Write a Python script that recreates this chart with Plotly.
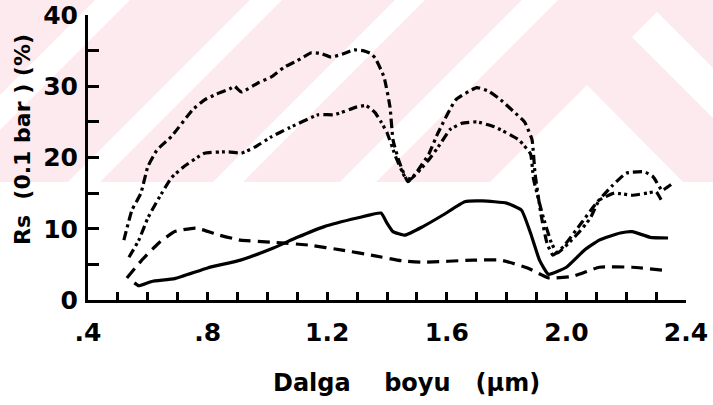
import plotly.graph_objects as go

# Spectral reflectance Rs (0.1 bar) versus wavelength for four samples
wl_a = [0.52, 0.547, 0.577, 0.60, 0.63, 0.68, 0.75, 0.79, 0.83, 0.873, 0.89, 0.913, 0.97, 1.013,
        1.057, 1.10, 1.147, 1.18, 1.213, 1.25, 1.29, 1.32, 1.345, 1.36, 1.39, 1.41, 1.42, 1.44,
        1.47, 1.50, 1.54, 1.57, 1.63, 1.70, 1.74, 1.78, 1.83, 1.86, 1.885, 1.895, 1.915, 1.935,
        1.955, 1.99, 2.05, 2.10, 2.15, 2.20, 2.26, 2.29, 2.32, 2.35]
rs_a = [8.4, 12.6, 15.0, 18.7, 21.0, 23.0, 26.7, 28.1, 28.9, 29.6, 30.0, 29.2, 30.5, 31.3,
        32.7, 33.6, 34.7, 34.6, 34.1, 34.5, 35.1, 35.0, 34.6, 34.0, 31.3, 27.1, 22.5, 19.5,
        16.6, 18.0, 20.5, 23.4, 28.1, 29.8, 29.3, 28.1, 26.2, 25.0, 22.5, 17.8, 12.0, 8.0,
        6.3, 7.5, 10.8, 13.6, 15.9, 17.8, 18.0, 17.3, 15.4, 16.2]

wl_b = [0.537, 0.57, 0.60, 0.637, 0.68, 0.72, 0.79, 0.87, 0.913, 0.96, 1.013, 1.07, 1.17,
        1.223, 1.30, 1.33, 1.36, 1.38, 1.40, 1.43, 1.46, 1.48, 1.54, 1.58, 1.61, 1.65, 1.70,
        1.76, 1.84, 1.88, 1.89, 1.92, 1.95, 1.97, 2.04, 2.08, 2.11, 2.16, 2.22, 2.27, 2.30, 2.32]
rs_b = [6.0, 8.4, 11.5, 14.3, 17.2, 18.7, 20.6, 20.8, 20.6, 21.5, 22.9, 24.1, 26.0,
        26.0, 27.1, 27.3, 26.3, 25.0, 23.5, 20.0, 17.3, 17.0, 19.7, 22.0, 23.9, 24.8, 25.0,
        24.3, 22.5, 20.5, 17.0, 12.0, 8.0, 6.6, 9.4, 11.5, 14.0, 15.0, 14.7, 15.0, 15.2, 13.8]

wl_c = [0.555, 0.57, 0.613, 0.69, 0.80, 0.91, 1.02, 1.10, 1.19, 1.30, 1.38, 1.40, 1.42, 1.46,
        1.52, 1.59, 1.66, 1.72, 1.80, 1.85, 1.88, 1.91, 1.94, 2.00, 2.06, 2.11, 2.18, 2.22,
        2.28, 2.34]
rs_c = [2.4, 2.0, 2.6, 3.0, 4.5, 5.6, 7.3, 8.8, 10.3, 11.5, 12.2, 10.8, 9.6, 9.1,
        10.3, 12.0, 13.8, 13.9, 13.6, 12.6, 9.4, 5.6, 3.6, 4.6, 7.0, 8.4, 9.4, 9.6,
        8.8, 8.7]

wl_d = [0.53, 0.58, 0.637, 0.69, 0.76, 0.84, 0.91, 1.02, 1.14, 1.25, 1.36, 1.45, 1.52, 1.69,
        1.78, 1.87, 1.94, 2.02, 2.11, 2.22, 2.32]
rs_d = [3.1, 5.6, 8.0, 9.6, 10.1, 9.1, 8.4, 8.1, 7.7, 7.0, 6.2, 5.5, 5.3, 5.6,
        5.6, 4.5, 3.1, 3.3, 4.6, 4.6, 4.2]

x_ticks = [round(0.4 + 0.1 * i, 1) for i in range(21)]
x_labels = {0.4: ".4", 0.8: ".8", 1.2: "1.2", 1.6: "1.6", 2.0: "2.0", 2.4: "2.4"}
y_ticks = [0, 5, 10, 15, 20, 25, 30, 35, 40]
y_labels = {0: "0", 10: "10", 20: "20", 30: "30", 40: "40"}

W, H = 713, 405
ML, MR, MT, MB = 88, 27, 15, 105
PW, PH = W - ML - MR, H - MT - MB


def px(x, y):
    """Pixel position -> paper coordinates."""
    return (x - ML) / PW, (H - MB - y) / PH


def poly(points, color):
    path = "M " + " L ".join(f"{px(x, y)[0]:.4f},{px(x, y)[1]:.4f}" for x, y in points) + " Z"
    return dict(type="path", xref="paper", yref="paper", path=path,
                fillcolor=color, line=dict(width=0), layer="below")


pink = "#fdeaee"
shapes = [poly([(0, 0), (713, 0), (713, 182), (0, 182)], pink)]
# pale chevron pattern of the page background
for c0, c1 in [(95, 130), (250, 282), (395, 425), (522, 558)]:
    shapes.append(poly([(c0, 0), (c1, 0), (c1 - 182, 182), (c0 - 182, 182)], "white"))
shapes.append(poly([(587, 85), (683, 182), (490, 182)], "white"))
shapes.append(poly([(632, 37), (657, 12), (713, 68), (713, 118), (657, 62)], "white"))

fig = go.Figure()
line_w = 3.2
fig.add_trace(go.Scatter(x=wl_a, y=rs_a, mode="lines",
                         line=dict(color="black", width=line_w, dash="9px,4px,3px,4px",
                                   shape="spline", smoothing=0.4)))
fig.add_trace(go.Scatter(x=wl_b, y=rs_b, mode="lines",
                         line=dict(color="black", width=line_w, dash="9px,4px,3px,3px,3px,4px",
                                   shape="spline", smoothing=0.4)))
fig.add_trace(go.Scatter(x=wl_c, y=rs_c, mode="lines",
                         line=dict(color="black", width=line_w, shape="spline", smoothing=0.4)))
fig.add_trace(go.Scatter(x=wl_d, y=rs_d, mode="lines",
                         line=dict(color="black", width=line_w, dash="12px,7px",
                                   shape="spline", smoothing=0.4)))

font_name = "DejaVu Sans"
tick_font = dict(size=25, family=font_name, color="black", weight="bold")
fig.update_layout(
    width=W, height=H,
    margin=dict(l=ML, r=MR, t=MT, b=MB, pad=0),
    paper_bgcolor="white", plot_bgcolor="rgba(0,0,0,0)",
    showlegend=False,
    shapes=shapes,
    font=dict(family=font_name, color="black"),
    xaxis=dict(range=[0.4, 2.4], showgrid=False, zeroline=False, automargin=False,
               showline=True, linecolor="black", linewidth=3,
               tickmode="array", tickvals=x_ticks,
               ticktext=[x_labels.get(v, "") for v in x_ticks],
               ticks="inside", ticklen=8, tickwidth=2.5, tickcolor="black",
               tickfont=tick_font, ticklabelstandoff=8),
    yaxis=dict(range=[0, 40], showgrid=False, zeroline=False, automargin=False,
               showline=True, linecolor="black", linewidth=3,
               tickmode="array", tickvals=y_ticks,
               ticktext=[y_labels.get(v, "") for v in y_ticks],
               ticks="inside", ticklen=11, tickwidth=2.5, tickcolor="black",
               tickfont=tick_font, ticklabelstandoff=2),
    annotations=[
        dict(text="Dalga    boyu   (μm)", xref="paper", yref="paper",
             x=px(406, 0)[0], y=px(0, 383)[1], xanchor="center", yanchor="middle",
             showarrow=False, font=dict(size=24, family=font_name, color="black", weight="bold")),
        dict(text="Rs  (0.1 bar ) (%)", xref="paper", yref="paper", textangle=-90,
             x=px(22, 0)[0], y=px(0, 140)[1], xanchor="center", yanchor="middle",
             showarrow=False, font=dict(size=22, family=font_name, color="black", weight="bold")),
    ],
)

fig.write_html("out.html")
